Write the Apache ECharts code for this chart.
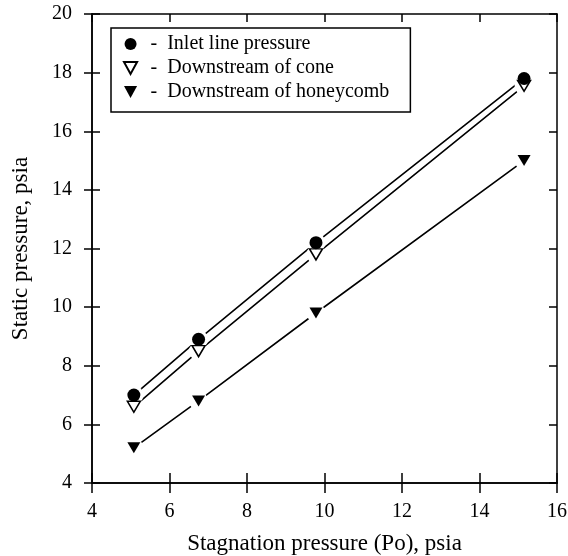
<!DOCTYPE html>
<html><head><meta charset="utf-8">
<script src="https://cdn.jsdelivr.net/npm/echarts@6/dist/echarts.min.js"></script>
<style>html,body{margin:0;padding:0;background:#fff}#c{width:568px;height:556px}</style>
</head><body><div id="c"></div>
<script>
const stagnation = [5.08, 6.75, 9.78, 15.15];
const inletLine = [7.0, 8.9, 12.2, 17.8];
const downCone = [6.6, 8.5, 11.8, 17.55];
const downHoneycomb = [5.2, 6.8, 9.8, 15.0];
const seriesNames = ['Inlet line pressure', 'Downstream of cone', 'Downstream of honeycomb'];
const xTicks = [4, 6, 8, 10, 12, 14, 16];
const yTicks = [4, 6, 8, 10, 12, 14, 16, 18, 20];

const FONT = 'Liberation Serif';
const tri = 'path://M0,0L12,0L6,11Z';
const pairs = arr => stagnation.map((x, i) => [x, arr[i]]);
const allSets = [inletLine, downCone, downHoneycomb];

const axisLineStyle = {show: true, lineStyle: {color: '#000', width: 1.5}};
const tickStyle = {color: '#000', width: 1.5};
const xBase = {type: 'value', min: xTicks[0], max: xTicks[xTicks.length - 1], interval: 2, splitLine: {show: false}, axisLine: axisLineStyle};
const yBase = {type: 'value', min: yTicks[0], max: yTicks[yTicks.length - 1], interval: 2, splitLine: {show: false}, axisLine: axisLineStyle};

const chart = echarts.init(document.getElementById('c'));
const series = [];
allSets.forEach(arr => series.push({
  type: 'line', data: pairs(arr), symbol: 'none', silent: true, z: 1,
  lineStyle: {color: '#000', width: 1.6}, animation: false
}));
allSets.forEach(arr => series.push({
  type: 'scatter', data: pairs(arr), symbol: 'circle', symbolSize: 19, z: 2, silent: true,
  itemStyle: {color: '#fff', opacity: 1}, animation: false
}));
series.push({name: seriesNames[0], type: 'scatter', data: pairs(inletLine), symbol: 'circle', symbolSize: 13, z: 4,
  itemStyle: {color: '#000', opacity: 1}, animation: false});
series.push({name: seriesNames[1], type: 'scatter', data: pairs(downCone), symbol: tri, symbolSize: [13, 11], z: 3,
  itemStyle: {color: '#fff', borderColor: '#000', borderWidth: 1.5, opacity: 1}, animation: false});
series.push({name: seriesNames[2], type: 'scatter', data: pairs(downHoneycomb), symbol: tri, symbolSize: [13, 11], z: 3,
  itemStyle: {color: '#000', opacity: 1}, animation: false});

chart.setOption({
  animation: false,
  textStyle: {fontFamily: FONT},
  grid: {left: 92, right: 11, top: 14, bottom: 73, containLabel: false, outerBoundsMode: 'none'},
  legend: {
    data: seriesNames, orient: 'vertical', left: 111, top: 28,
    itemWidth: 14, itemHeight: 12, itemGap: 4,
    padding: [6, 21, 10, 12],
    borderColor: '#000', borderWidth: 1.5,
    textStyle: {fontFamily: FONT, fontSize: 20, lineHeight: 20, color: '#000', padding: [0, 0, 0, 8]},
    formatter: n => '-  ' + n,
    selectedMode: false
  },
  xAxis: [
    Object.assign({}, xBase, {position: 'bottom', axisTick: {inside: true, length: 10, lineStyle: tickStyle},
      axisLabel: {fontSize: 20, color: '#000', margin: 19, fontFamily: FONT},
      name: 'Stagnation pressure (Po), psia', nameLocation: 'middle', nameGap: 49,
      nameTextStyle: {fontSize: 23, color: '#000', fontFamily: FONT}}),
    Object.assign({}, xBase, {position: 'bottom', axisTick: {inside: false, length: 10, lineStyle: tickStyle}, axisLabel: {show: false}}),
    Object.assign({}, xBase, {position: 'top', axisTick: {inside: true, length: 8, lineStyle: tickStyle}, axisLabel: {show: false}})
  ],
  yAxis: [
    Object.assign({}, yBase, {position: 'left', axisTick: {inside: true, length: 8, lineStyle: tickStyle},
      axisLabel: {fontSize: 20, color: '#000', margin: 20, fontFamily: FONT},
      name: 'Static pressure, psia', nameLocation: 'middle', nameGap: 60,
      nameTextStyle: {fontSize: 23, color: '#000', fontFamily: FONT}}),
    Object.assign({}, yBase, {position: 'left', axisTick: {inside: false, length: 8, lineStyle: tickStyle}, axisLabel: {show: false}}),
    Object.assign({}, yBase, {position: 'right', axisTick: {inside: true, length: 8, lineStyle: tickStyle}, axisLabel: {show: false}})
  ],
  series: series
});
</script></body></html>
